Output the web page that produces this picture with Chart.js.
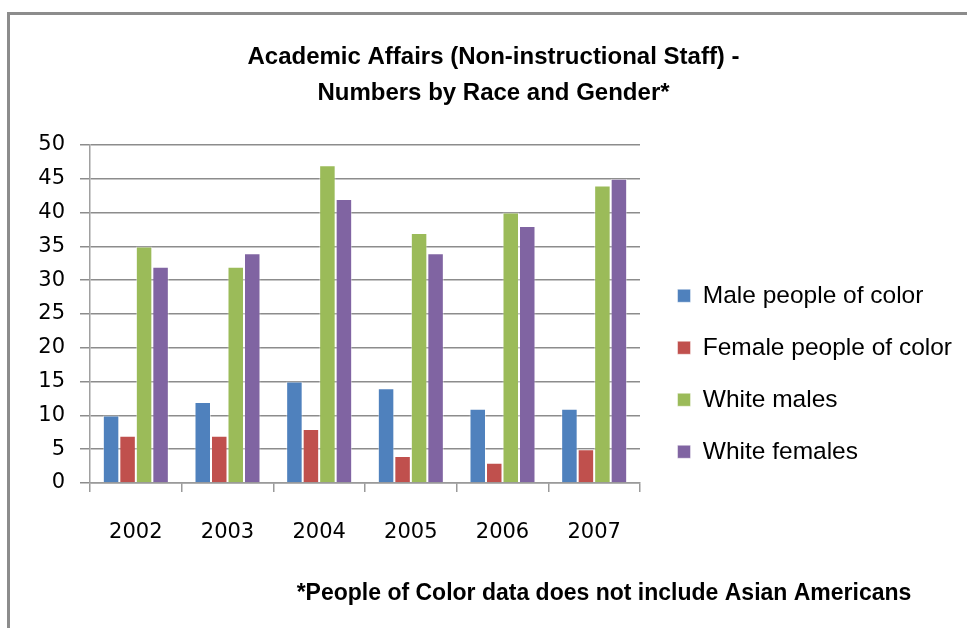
<!DOCTYPE html>
<html lang="en">
<head>
    <meta charset="UTF-8">
    <title>Academic Affairs (Non-instructional Staff)</title>
    <script src="https://cdn.jsdelivr.net/npm/chart.js"></script>
    <style>
        body { margin: 0; background: #fff; }
        #wrap { position: relative; width: 967px; height: 628px; overflow: hidden; }
        #frame {
            position: absolute; left: 7px; top: 12px; right: -10px; bottom: -10px;
            border-top: 3px solid #8c8c8c; border-left: 3px solid #8c8c8c;
            pointer-events: none;
        }
    </style>
</head>
<body>
<div id="wrap">
    <canvas id="staffChart" width="967" height="628"></canvas>
    <div id="frame"></div>
</div>

<script>
    // data
    const years = ['2002', '2003', '2004', '2005', '2006', '2007'];
    const malePeopleOfColor = [10, 12, 15, 14, 11, 11];
    const femalePeopleOfColor = [7, 7, 8, 4, 3, 5];
    const whiteMales = [35, 32, 47, 37, 40, 44];
    const whiteFemales = [32, 34, 42, 34, 38, 45];
    const yMax = 50;
    const yStep = 5;

    const footnote = '*People of Color data does not include Asian Americans';

    // footnote under the axis, drawn on the canvas
    const footnotePlugin = {
        id: 'footnote',
        afterDraw(chart) {
            const ctx = chart.ctx;
            ctx.save();
            ctx.font = 'bold 23px "Liberation Sans", Arial, sans-serif';
            ctx.fillStyle = '#000';
            ctx.textAlign = 'center';
            ctx.textBaseline = 'alphabetic';
            ctx.fillText(footnote, 604, 600);
            ctx.restore();
        }
    };

    const barBorder = 'rgba(255, 255, 255, 0.45)';

    const ctx = document.getElementById('staffChart').getContext('2d');
    new Chart(ctx, {
        type: 'bar',
        data: {
            labels: years,
            datasets: [
                { label: 'Male people of color', data: malePeopleOfColor, backgroundColor: '#4F81BD' },
                { label: 'Female people of color', data: femalePeopleOfColor, backgroundColor: '#C0504D' },
                { label: 'White males', data: whiteMales, backgroundColor: '#9BBB59' },
                { label: 'White females', data: whiteFemales, backgroundColor: '#8064A2' }
            ].map(ds => Object.assign(ds, {
                borderColor: barBorder,
                borderWidth: 1,
                categoryPercentage: 0.72,
                barPercentage: 1.0
            }))
        },
        options: {
            responsive: false,
            animation: false,
            layout: { padding: { left: 25, right: 5, top: 0, bottom: 0 } },
            scales: {
                x: {
                    grid: {
                        drawOnChartArea: false,
                        drawTicks: true,
                        tickLength: 9,
                        color: '#9a9a9a',
                        lineWidth: 1.5
                    },
                    border: { color: '#9a9a9a', width: 1.5 },
                    ticks: {
                        color: '#000',
                        padding: 28,
                        font: { family: '"DejaVu Sans", Verdana, sans-serif', size: 21 }
                    },
                    afterFit: s => { s.height = 628 - 483; }
                },
                y: {
                    min: 0,
                    max: yMax,
                    ticks: {
                        stepSize: yStep,
                        color: '#000',
                        padding: 15,
                        font: { family: '"DejaVu Sans", Verdana, sans-serif', size: 21 }
                    },
                    grid: { color: '#8c8c8c', lineWidth: 1.5, tickLength: 10 },
                    border: { color: '#a0a0a0', width: 1.5 },
                    afterFit: s => { s.width = 65; }
                },
                // empty spacer so the legend sits a little right of the plot
                y2: {
                    type: 'linear',
                    position: 'right',
                    grid: { display: false, drawTicks: false },
                    border: { display: false },
                    ticks: { display: false },
                    afterFit: s => {
                        s.width = Math.max(0, s.chart.width - 5 - s.chart.legend.width - 640);
                    }
                }
            },
            plugins: {
                title: {
                    display: true,
                    text: ['Academic Affairs (Non-instructional Staff) -', 'Numbers by Race and Gender*'],
                    color: '#000',
                    font: { family: '"Liberation Sans", Arial, sans-serif', size: 24, weight: 'bold', lineHeight: '36px' },
                    padding: { top: 39, bottom: 34 }
                },
                legend: {
                    position: 'right',
                    align: 'start',
                    maxWidth: 330,
                    title: {
                        display: true,
                        text: '',
                        font: { size: 10, lineHeight: 1 },
                        padding: { top: 246, bottom: 0 }
                    },
                    labels: {
                        color: '#000',
                        boxWidth: 13,
                        boxHeight: 13,
                        padding: 27.5,
                        font: { family: '"Liberation Sans", Arial, sans-serif', size: 24.5 }
                    }
                },
                tooltip: { enabled: false }
            }
        },
        plugins: [footnotePlugin]
    });
</script>
</body>
</html>
